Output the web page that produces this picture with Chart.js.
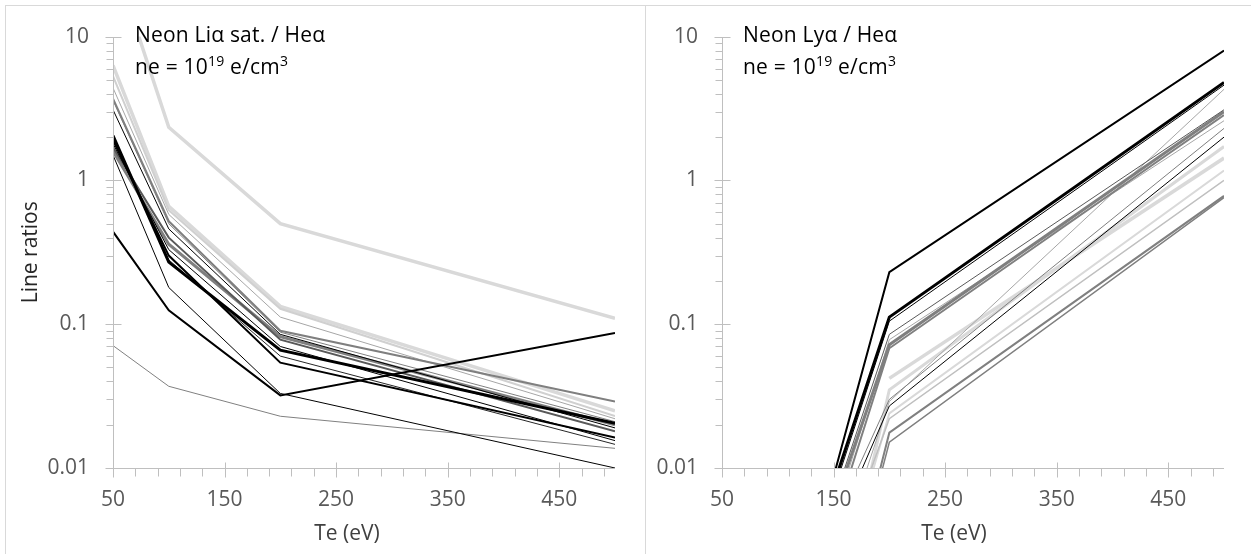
<!DOCTYPE html>
<html><head><meta charset="utf-8">
<script src="https://cdn.jsdelivr.net/npm/chart.js@4.4.1/dist/chart.umd.min.js"></script>
<style>
html,body{margin:0;padding:0;background:#fff;width:1251px;height:554px;overflow:hidden;position:relative;}
.box{position:absolute;border:1px solid #d9d9d9;box-sizing:border-box;}
canvas{position:absolute;top:0;}
.note{position:absolute;font-family:"Open Sans",sans-serif;font-size:21px;line-height:32px;color:#000;white-space:nowrap;letter-spacing:0.2px;}
.sup{font-size:14px;position:relative;top:-8px;}
.xt{position:absolute;font-family:"Open Sans",sans-serif;font-size:21px;line-height:28px;color:#404040;white-space:nowrap;transform:translateX(-50%);}
</style></head><body>
<div class="box" style="left:5px;top:5px;width:641px;height:600px"></div>
<div class="box" style="left:645px;top:5px;width:620px;height:600px"></div>
<canvas id="c1" width="640" height="554" style="left:0"></canvas>
<canvas id="c2" width="606" height="554" style="left:645px"></canvas>
<div class="note" style="left:135px;top:18px">Neon Liα sat. / Heα<br>ne = 10<span class="sup">19</span> e/cm<span class="sup">3</span></div>
<div class="note" style="left:743px;top:18px">Neon Lyα / Heα<br>ne = 10<span class="sup">19</span> e/cm<span class="sup">3</span></div>
<div class="xt" style="left:347px;top:518px">Te (eV)</div>
<div class="xt" style="left:954px;top:518px">Te (eV)</div>
<script>
// ---- data ----
const teValues = [50, 100, 200, 500];
const xTickLabels = [50, 150, 250, 350, 450];
const yTickLabels = [0.01, 0.1, 1, 10];

// Left panel: Neon Li-alpha satellite / He-alpha
const liSatA = [35, 2.34, 0.50, 0.110];
const liSatB = [6.3, 0.66, 0.133, 0.025];
const liSatC = [5.3, 0.62, 0.128, 0.023];
const liSatD = [4.4, 0.58, 0.112, 0.022];
const liSatE = [0.071, 0.037, 0.0229, 0.0137];
const liSatF = [3.7, 0.52, 0.090, 0.029];
const liSatG = [3.6, 0.50, 0.088, 0.021];
const liSatH = [1.6, 0.36, 0.082, 0.020];
const liSatI = [1.7, 0.40, 0.078, 0.018];
const liSatJ = [3.1, 0.46, 0.085, 0.019];
const liSatK = [1.8, 0.33, 0.070, 0.0155];
const liSatL = [2.0, 0.28, 0.060, 0.0146];
const liSatM = [1.5, 0.18, 0.033, 0.010];
const liSatN = [1.9, 0.30, 0.054, 0.0163];
const liSatO = [2.05, 0.27, 0.066, 0.0205];
const liSatP = [0.44, 0.125, 0.032, 0.087];

// Right panel: Neon Ly-alpha / He-alpha
const lyaA = [null, null, 0.042, 1.43];
const lyaB = [null, 1.4e-5, 0.035, 1.72];
const lyaC = [null, 4.7e-5, 0.024, 1.17];
const lyaD = [null, 1.6e-4, 0.022, 1.0];
const lyaE = [null, 1.5e-5, 0.0176, 0.78];
const lyaF = [null, 1.6e-5, 0.0151, 0.76];
const lyaG = [null, 1.4e-4, 0.029, 4.3];
const lyaH = [null, 5.9e-4, 0.030, 2.3];
const lyaI = [null, 4.4e-4, 0.027, 2.0];
const lyaJ = [null, 2.6e-4, 0.078, 2.6];
const lyaK = [null, 2.4e-4, 0.068, 2.85];
const lyaL = [null, 4.0e-4, 0.072, 3.0];
const lyaM = [null, 4.0e-4, 0.085, 3.1];
const lyaN = [null, 4.5e-4, 0.105, 4.6];
const lyaO = [null, 5.2e-4, 0.112, 4.8];
const lyaP = [null, 3.3e-4, 0.23, 8.0];

const leftSeries = [liSatA, liSatB, liSatC, liSatD, liSatE, liSatF, liSatG, liSatH, liSatI, liSatJ, liSatK, liSatL, liSatM, liSatN, liSatO, liSatP];
const rightSeries = [lyaA, lyaB, lyaC, lyaD, lyaE, lyaF, lyaG, lyaH, lyaI, lyaJ, lyaK, lyaL, lyaM, lyaN, lyaO, lyaP];

// ---- styles (kept apart from data) ----
const leftStyles = [
  ['#d9d9d9', 3.5], ['#d9d9d9', 3.5], ['#d0d0d0', 2], ['#a6a6a6', 1], ['#808080', 1],
  ['#7f7f7f', 2], ['#808080', 1], ['#7f7f7f', 3], ['#595959', 2], ['#000000', 1],
  ['#000000', 1], ['#262626', 1], ['#000000', 1], ['#000000', 2], ['#000000', 3], ['#000000', 2]
];
const rightStyles = [
  ['#d9d9d9', 3.5], ['#d9d9d9', 3], ['#d9d9d9', 2], ['#bfbfbf', 1.5], ['#808080', 2],
  ['#7f7f7f', 1.5], ['#a6a6a6', 1], ['#7f7f7f', 1], ['#000000', 1], ['#a6a6a6', 1],
  ['#808080', 2], ['#7f7f7f', 3], ['#595959', 1], ['#000000', 1], ['#000000', 3], ['#000000', 2]
];

const FONT = '"Open Sans", sans-serif';
const AXIS_COLOR = '#bfbfbf';

const axisPlugin = {
  id: 'excelAxes',
  afterDraw(chart) {
    const {ctx, chartArea: a, scales: {x, y}} = chart;
    const L = Math.round(a.left) + 0.5;
    const B = Math.round(a.bottom) + 0.5;
    ctx.save();
    ctx.strokeStyle = AXIS_COLOR;
    ctx.lineWidth = 1;
    ctx.beginPath();
    ctx.moveTo(L, Math.round(y.getPixelForValue(10)));
    ctx.lineTo(L, B);
    ctx.lineTo(Math.round(x.getPixelForValue(500)), B);
    for (let e = -2; e <= 1; e++) {
      for (let k = 1; k <= 9; k++) {
        const v = k * Math.pow(10, e);
        if (v > 10.0001) break;
        const py = Math.round(y.getPixelForValue(v)) + 0.5;
        if (k === 1) { ctx.moveTo(L - 8, py); ctx.lineTo(L + 8, py); }
        else { ctx.moveTo(L - 7, py); ctx.lineTo(L, py); }
      }
      if (e === 1) break;
    }
    for (let t = 50; t < 500; t += 20) {
      const px = Math.round(x.getPixelForValue(t)) + 0.5;
      if ((t - 50) % 100 === 0) { ctx.moveTo(px, B - 6); ctx.lineTo(px, B + 9); }
      else { ctx.moveTo(px, B); ctx.lineTo(px, B + 8); }
    }
    ctx.stroke();
    ctx.restore();
  }
};

function makeChart(id, series, styles, yWidth, rightPad, yTitle) {
  const n = series.length;
  const datasets = series.map((vals, i) => ({
    data: vals.map((v, j) => ({x: teValues[j], y: v})),
    borderColor: styles[i][0],
    borderWidth: styles[i][1],
    pointRadius: 0,
    tension: 0,
    fill: false,
    spanGaps: false,
    order: n - i,
    clip: 0
  }));
  return new Chart(document.getElementById(id), {
    type: 'line',
    data: {datasets},
    plugins: [axisPlugin],
    options: {
      responsive: false,
      animation: false,
      layout: {padding: {top: 20, right: rightPad, left: 0, bottom: 0}},
      plugins: {legend: {display: false}, tooltip: {enabled: false}},
      scales: {
        x: {
          type: 'linear', min: 50, max: 500,
          afterBuildTicks: s => { s.ticks = xTickLabels.map(v => ({value: v})); },
          afterFit: s => { s.height = 86; },
          grid: {display: false, drawTicks: false},
          border: {display: false},
          ticks: {autoSkip: false, maxRotation: 0, padding: 19, color: '#595959',
                  font: {family: FONT, size: 21}, callback: v => String(v)}
        },
        y: {
          type: 'logarithmic', min: 0.01, max: 10,
          afterBuildTicks: s => { s.ticks = yTickLabels.map(v => ({value: v})); },
          afterFit: s => { s.width = yWidth; },
          grid: {display: false, drawTicks: false},
          border: {display: false},
          ticks: {autoSkip: false, padding: 24, color: '#595959',
                  font: {family: FONT, size: 21}, callback: v => String(v)},
          title: {display: !!yTitle, text: yTitle || '', color: '#262626',
                  font: {family: FONT, size: 21}, padding: {top: 18, bottom: 0}}
        }
      }
    }
  });
}

makeChart('c1', leftSeries, leftStyles, 113, 25, 'Line ratios');
makeChart('c2', rightSeries, rightStyles, 77, 27, '');
</script>
</body></html>
